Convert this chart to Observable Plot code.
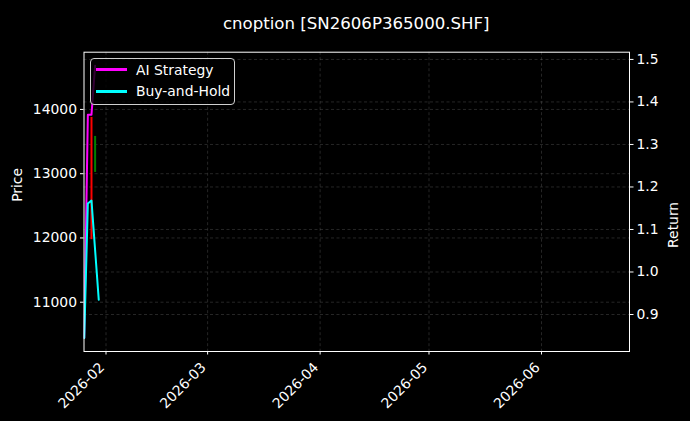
<!DOCTYPE html>
<html><head><meta charset="utf-8">
<script src="https://cdn.jsdelivr.net/npm/d3@7"></script>
<script src="https://cdn.jsdelivr.net/npm/@observablehq/plot@0.6"></script>
<style>
html,body{margin:0;padding:0;background:#000;}
#wrap{position:relative;width:690px;height:421px;background:#000;font-family:"DejaVu Sans",sans-serif;color:#fff;overflow:hidden;}
#titlebox{position:relative;height:40px;}
#title{position:absolute;left:83.5px;width:545.5px;top:14px;text-align:center;font-size:16.6px;line-height:19px;white-space:nowrap;}
#legend{position:absolute;left:90px;top:58px;width:145px;height:47px;box-sizing:border-box;border:1px solid #d0d0d0;border-radius:4px;background:rgba(0,0,0,0.8);font-size:13.9px;}
.item{position:absolute;left:5px;height:18px;display:flex;align-items:center;white-space:nowrap;}
.sw{width:31px;height:2.6px;margin-right:9px;}
</style></head>
<body><div id="wrap"><div id="titlebox"><div id="title">cnoption [SN2606P365000.SHF]</div></div><div id="chart"></div><div id="legend"></div></div>
<script>
// Candles (price, left axis)
const candleDates = ["2026-01-28", "2026-01-29"];
const candleOpen = [13876, 13020];
const candleClose = [11974, 13580];
// Return series (right axis)
const aiDates = ["2026-01-26", "2026-01-27", "2026-01-28", "2026-01-29"];
const aiReturn = [0.845, 1.37, 1.37, 1.485];
const bhDates = ["2026-01-26", "2026-01-27", "2026-01-28", "2026-01-30"];
const bhReturn = [0.845, 1.161, 1.168, 0.935];
// Axes
const xTicks = ["2026-02-01", "2026-03-01", "2026-04-01", "2026-05-01", "2026-06-01"];
const priceTicks = [11000, 12000, 13000, 14000];
const returnTicks = [0.9, 1.0, 1.1, 1.2, 1.3, 1.4, 1.5];
const xDomain = ["2026-01-25T22:30:00Z", "2026-06-25T06:00:00Z"];
const priceDomain = [10233, 14891];
const returnDomain = [0.813, 1.517];
const seriesNames = ["AI Strategy", "Buy-and-Hold"];
const seriesColors = ["#ff00ff", "#00ffff"];

const r2p = d3.scaleLinear().domain(returnDomain).range(priceDomain);
const candles = candleDates.map((d, i) => ({date: new Date(d), open: candleOpen[i], close: candleClose[i]}));
const ai = aiDates.map((d, i) => ({date: new Date(d), r: aiReturn[i]}));
const bh = bhDates.map((d, i) => ({date: new Date(d), r: bhReturn[i]}));
const gridStyle = {stroke: "#8a8a8a", strokeOpacity: 0.35, strokeDasharray: "3,2.5", strokeWidth: 0.8};
const xTickDates = xTicks.map(d => new Date(d));

const chart = Plot.plot({
  width: 690, height: 381,
  marginLeft: 83.5, marginRight: 61, marginTop: 11.7, marginBottom: 70,
  style: {background: "#000", color: "#fff", fontFamily: "DejaVu Sans, sans-serif", fontSize: "13.9px"},
  x: {type: "utc", domain: xDomain.map(d => new Date(d))},
  y: {domain: priceDomain},
  marks: [
    Plot.gridX(xTickDates, gridStyle),
    Plot.gridY(priceTicks, gridStyle),
    Plot.gridY(returnTicks.map(r2p), gridStyle),
    Plot.ruleX(candles.filter(d => d.close < d.open), {x: "date", y1: "open", y2: "close", stroke: "#ff0000", strokeWidth: 2}),
    Plot.ruleX(candles.filter(d => d.close >= d.open), {x: "date", y1: "open", y2: "close", stroke: "#008000", strokeWidth: 2}),
    Plot.line(ai, {x: "date", y: d => r2p(d.r), stroke: seriesColors[0], strokeWidth: 2, clip: true}),
    Plot.line(bh, {x: "date", y: d => r2p(d.r), stroke: seriesColors[1], strokeWidth: 2, clip: true}),
    Plot.axisX(xTickDates, {tickSize: 3.5, text: null, label: null}),
    Plot.axisX(xTickDates, {tickFormat: d3.utcFormat("%Y-%m"), tickRotate: -45, tickSize: 0, tickPadding: 11.5, dx: -4, dy: 2, label: null}),
    Plot.axisY(priceTicks, {anchor: "left", tickSize: 3.5, tickPadding: 3.5, label: null, tickFormat: d => String(d)}),
    Plot.axisY(returnTicks.map(r2p), {anchor: "right", tickSize: 3.5, tickPadding: 3.5, label: null, tickFormat: d => r2p.invert(d).toFixed(1)}),
    Plot.text(["Price"], {frameAnchor: "left", dx: -66.5, rotate: -90, fill: "#fff", fontSize: 13.9}),
    Plot.text(["Return"], {frameAnchor: "right", dx: 44, rotate: -90, fill: "#fff", fontSize: 13.9}),
    Plot.frame({stroke: "#fff", strokeWidth: 1})
  ]
});
document.getElementById("chart").appendChild(chart);

const legend = document.getElementById("legend");
seriesNames.forEach((name, i) => {
  const item = document.createElement("div");
  item.className = "item";
  item.style.top = (1.7 + i * 21.6) + "px";
  const sw = document.createElement("span");
  sw.className = "sw";
  sw.style.background = seriesColors[i];
  const t = document.createElement("span");
  t.textContent = name;
  item.appendChild(sw); item.appendChild(t);
  legend.appendChild(item);
});
</script>
</body></html>
